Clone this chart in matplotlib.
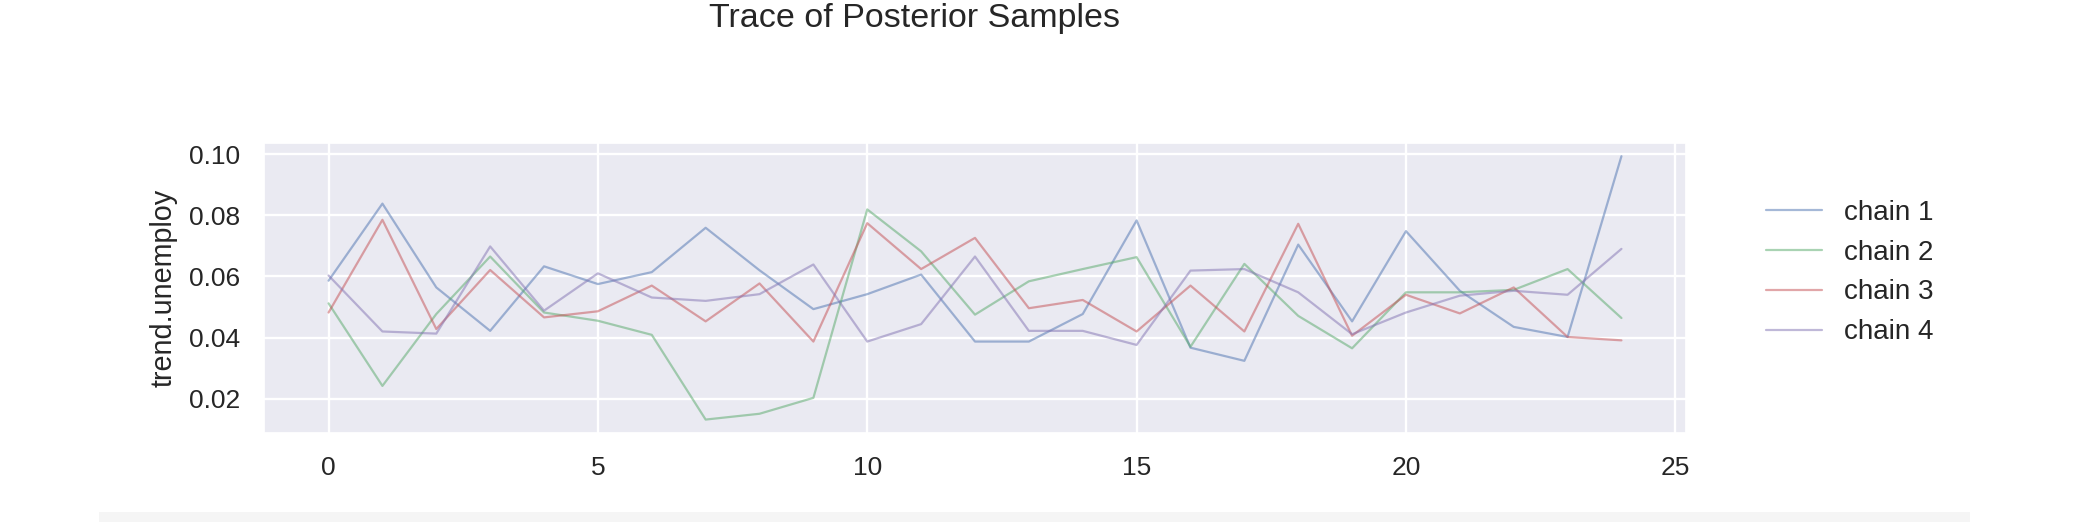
import matplotlib
matplotlib.use("Agg")
import matplotlib.pyplot as plt
import seaborn as sns
from matplotlib.patches import Rectangle

# posterior draws of trend.unemploy
draws = list(range(25))
chain1 = [0.0586, 0.0838, 0.0564, 0.0422, 0.0633, 0.0575, 0.0614, 0.0759, 0.0620, 0.0493,
          0.0542, 0.0606, 0.0387, 0.0387, 0.0477, 0.0783, 0.0367, 0.0324, 0.0704, 0.0453,
          0.0748, 0.0553, 0.0435, 0.0402, 0.0993]
chain2 = [0.0512, 0.0242, 0.0477, 0.0665, 0.0482, 0.0455, 0.0409, 0.0132, 0.0151, 0.0203,
          0.0819, 0.0682, 0.0475, 0.0584, 0.0624, 0.0663, 0.0370, 0.0641, 0.0471, 0.0365,
          0.0548, 0.0548, 0.0556, 0.0624, 0.0464]
chain3 = [0.0482, 0.0785, 0.0428, 0.0621, 0.0466, 0.0486, 0.0570, 0.0453, 0.0577, 0.0387,
          0.0774, 0.0624, 0.0726, 0.0496, 0.0523, 0.0420, 0.0570, 0.0420, 0.0772, 0.0406,
          0.0540, 0.0479, 0.0564, 0.0402, 0.0391]
chain4 = [0.0603, 0.0420, 0.0413, 0.0698, 0.0488, 0.0610, 0.0531, 0.0520, 0.0542, 0.0639,
          0.0387, 0.0444, 0.0665, 0.0422, 0.0422, 0.0376, 0.0619, 0.0624, 0.0548, 0.0411,
          0.0482, 0.0537, 0.0553, 0.0540, 0.0690]
labels = ['chain 1', 'chain 2', 'chain 3', 'chain 4']
# old seaborn "deep" colours
colors = ['#4C72B0', '#55A868', '#C44E52', '#8172B2']

sns.set_theme(style='darkgrid', rc={'grid.linewidth': 1.7})
plt.rcParams['font.family'] = ['Liberation Sans', 'DejaVu Sans']

fig = plt.figure(figsize=(20.78, 5.22), dpi=100)
ax = fig.add_axes([0.127, 0.171, 0.6844, 0.555])

for i, chain in enumerate([chain1, chain2, chain3, chain4]):
    ax.plot(draws, chain, color=colors[i], alpha=0.5, lw=1.6, label=labels[i])

ax.set_ylabel('trend.unemploy', fontsize=20.7, color='.15', labelpad=8)
ax.tick_params(axis='both', labelsize=19, colors='.15', length=0, pad=17)

ax.legend(loc='center left', bbox_to_anchor=(0.838, 0.478),
          bbox_transform=fig.transFigure, frameon=False, fontsize=20,
          labelspacing=0.5)

fig.suptitle('Trace of Posterior Samples', x=0.44, y=0.965, va='center',
             fontsize=24.5, color='.15')

# grey strip of the notebook cell below the figure
fig.patches.append(Rectangle((0.0476, 0.0), 0.9004, 0.019, transform=fig.transFigure,
                             facecolor='#f5f5f5', edgecolor='none', zorder=-1))

fig.savefig('out.png', dpi=100)
